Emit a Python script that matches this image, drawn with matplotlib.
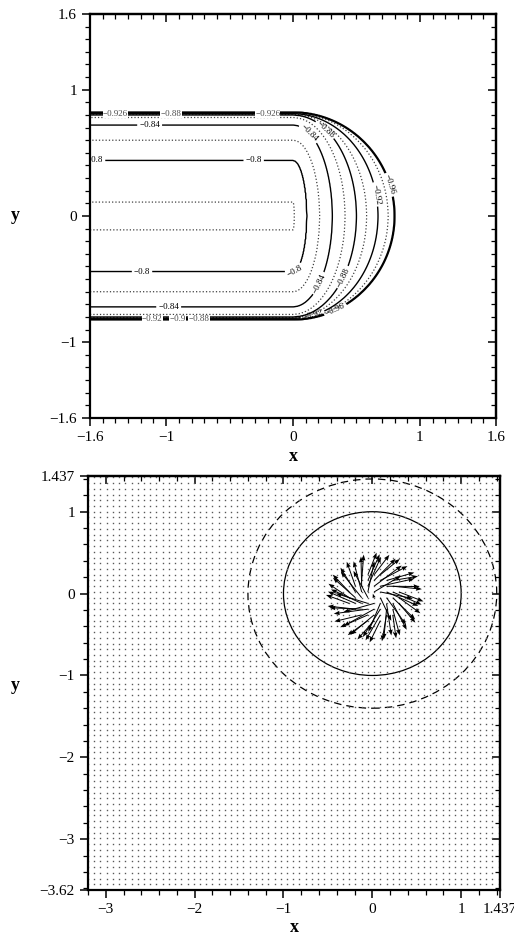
import numpy as np
import matplotlib
matplotlib.use("Agg")
import matplotlib.pyplot as plt
from matplotlib.patches import Circle
from matplotlib.ticker import MultipleLocator

plt.rcParams['font.family'] = ['Liberation Serif', 'DejaVu Serif']
plt.rcParams['axes.unicode_minus'] = True

# ---- top panel: contour levels ----
# level value, half width of the band for x<0, reach along y=0 for x>0
levels = [-0.78, -0.80, -0.82, -0.84, -0.86, -0.88, -0.90, -0.92, -0.94, -0.96, -0.97]
half_width = [0.11, 0.44, 0.60, 0.72, 0.78, 0.80, 0.805, 0.81, 0.815, 0.82, 0.83]
reach = [0.01, 0.11, 0.21, 0.31, 0.41, 0.50, 0.58, 0.67, 0.75, 0.80, 0.85]
solid_levels = [-0.80, -0.84, -0.88, -0.92, -0.96]
solid_widths = [1.0, 1.0, 1.0, 1.0, 1.6]
dotted_levels = [-0.78, -0.82, -0.86, -0.90, -0.94]

label_spots = {
    -0.80: [(-1.56, 0.44), (-0.31, 0.44), (-1.19, -0.45), (0.02, -0.44)],
    -0.84: [(-1.13, 0.72), (-0.98, -0.73), (0.11, 0.64), (0.16, -0.51)],
    -0.88: [(0.25, 0.68), (0.38, -0.48)],
    -0.92: [(0.65, 0.17), (0.16, -0.80)],
    -0.96: [(0.77, 0.25), (0.33, -0.73)],
}
band_labels = [(-1.40, 0.81, '-0.926'), (-0.96, 0.81, '-0.88'), (-0.20, 0.81, '-0.926'),
               (-1.11, -0.82, '-0.92'), (-0.91, -0.82, '-0.9'), (-0.74, -0.82, '-0.88')]

# ---- bottom panel ----
grid_step = 0.07
x_lim2 = (-3.2, 1.437)
y_lim2 = (-3.62, 1.437)
inner_r = 1.0
outer_r = 1.4
vortex_c = (0.03, -0.05)
ring_r = [0.0, 0.07, 0.14, 0.21, 0.3]
ring_len = [0.0, 0.36, 0.40, 0.36, 0.28]
ring_turn = [-75, -65, -55, -45, -35]


def minus(s):
    return s.replace('-', '\u2212')


def style_axes(ax, xmaj, ymaj, xlabels, ylabels, minor):
    ax.set_xticks(xmaj)
    ax.set_xticklabels([minus(t) for t in xlabels])
    ax.set_yticks(ymaj)
    ax.set_yticklabels([minus(t) for t in ylabels])
    ax.xaxis.set_minor_locator(MultipleLocator(minor))
    ax.yaxis.set_minor_locator(MultipleLocator(minor))
    ax.tick_params(which='major', direction='out', length=6, width=1.1, labelsize=11)
    ax.tick_params(which='minor', direction='out', length=3.5, width=0.9)
    for sp in ax.spines.values():
        sp.set_linewidth(1.6)
    top = ax.secondary_xaxis('top', functions=(lambda v: v, lambda v: v))
    right = ax.secondary_yaxis('right', functions=(lambda v: v, lambda v: v))
    for sec, maj in ((top, xmaj), (right, ymaj)):
        sec.set_ticks(maj)
        sec.tick_params(which='major', direction='in', length=6, width=1.1,
                        labeltop=False, labelright=False, labelleft=False, labelbottom=False)
        sec.tick_params(which='minor', direction='in', length=3.5, width=0.9)
    top.xaxis.set_minor_locator(MultipleLocator(minor))
    right.yaxis.set_minor_locator(MultipleLocator(minor))
    for sec in (top, right):
        for sp in sec.spines.values():
            sp.set_linewidth(1.6)


fig = plt.figure(figsize=(5.14, 9.38), dpi=100)

# ---------------- top ----------------
ax1 = fig.add_axes([0.1751, 0.5544, 0.7899, 0.4307])
xs = np.linspace(-1.6, 1.6, 641)
X, Y = np.meshgrid(xs, xs)
lv = np.array(levels)
a = np.array(half_width)[:, None, None]
b = np.array(reach)[:, None, None]
xp = np.clip(X, 0, None)
S = np.sqrt((xp[None] / b) ** 2 + (Y[None] / a) ** 2)
Z = np.full(X.shape, np.nan)
m = S[0] < 1
Z[m] = lv[0] + (lv[0] - lv[1]) * (1 - S[0][m])
for k in range(len(lv) - 1):
    m = (S[k] >= 1) & (S[k + 1] < 1)
    frac = (S[k][m] - 1) / (S[k][m] - S[k + 1][m])
    Z[m] = lv[k] + frac * (lv[k + 1] - lv[k])

ax1.contour(X, Y, Z, levels=sorted(dotted_levels), colors='0.25',
            linestyles=':', linewidths=0.9)
for lev, lw in zip(solid_levels, solid_widths):
    cs = ax1.contour(X, Y, Z, levels=[lev], colors='k', linestyles='-', linewidths=lw)
    cs.clabel(manual=label_spots[lev], inline=True, fontsize=6.5,
              fmt=lambda v: minus(f'{v:g}'), inline_spacing=2)
for x, y, t in band_labels:
    ax1.text(x, y, minus(t), fontsize=6.5, ha='center', va='center', color='0.3',
             bbox=dict(facecolor='white', edgecolor='none', pad=0.2))

ax1.set_xlim(-1.6, 1.6)
ax1.set_ylim(-1.6, 1.6)
style_axes(ax1, [-1.6, -1, 0, 1, 1.6], [-1.6, -1, 0, 1, 1.6],
           ['-1.6', '-1', '0', '1', '1.6'], ['-1.6', '-1', '0', '1', '1.6'], 0.1)
ax1.set_xlabel('x', fontsize=13, fontweight='bold')
ax1.set_ylabel('y', fontsize=13, fontweight='bold', rotation=0, va='center')
ax1.xaxis.set_label_coords(0.5, -0.075)
ax1.yaxis.set_label_coords(-0.185, 0.5)

# ---------------- bottom ----------------
ax2 = fig.add_axes([0.1712, 0.0512, 0.8016, 0.4414])
gx = np.arange(x_lim2[0], x_lim2[1], grid_step)
gy = np.arange(y_lim2[0], y_lim2[1], grid_step)
GX, GY = np.meshgrid(gx, gy)
ax2.plot(GX.ravel(), GY.ravel(), linestyle='none', marker='s', markersize=1.0,
         markeredgewidth=0, color='0.35')

dx = GX - vortex_c[0]
dy = GY - vortex_c[1]
R = np.hypot(dx, dy)
sel = (R > 0.01) & (R <= ring_r[-1])
th = np.arctan2(dy[sel], dx[sel]) + np.deg2rad(np.interp(R[sel], ring_r, ring_turn))
L = np.interp(R[sel], ring_r, ring_len)
ax2.quiver(GX[sel], GY[sel], L * np.cos(th), L * np.sin(th), angles='xy',
           scale_units='xy', scale=1, width=0.0024, headwidth=4.5, headlength=6,
           headaxislength=5.5, color='k', zorder=3)

ax2.add_patch(Circle((0, 0), inner_r, fill=False, lw=0.9, color='k'))
ax2.add_patch(Circle((0, 0), outer_r, fill=False, lw=0.9, color='k',
                     linestyle=(0, (6, 4))))

ax2.set_xlim(*x_lim2)
ax2.set_ylim(*y_lim2)
style_axes(ax2, [-3, -2, -1, 0, 1, 1.437], [-3.62, -3, -2, -1, 0, 1, 1.437],
           ['-3', '-2', '-1', '0', '1', '1.437'],
           ['-3.62', '-3', '-2', '-1', '0', '1', '1.437'], 0.2)
ax2.set_xlabel('x', fontsize=13, fontweight='bold')
ax2.set_ylabel('y', fontsize=13, fontweight='bold', rotation=0, va='center')
ax2.xaxis.set_label_coords(0.5, -0.07)
ax2.yaxis.set_label_coords(-0.177, 0.495)

fig.savefig('out.png', dpi=100)
